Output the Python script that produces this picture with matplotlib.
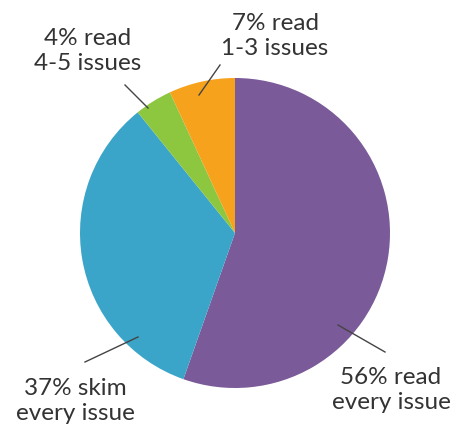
import numpy as np
import matplotlib.pyplot as plt

# slice shares (measured from the wedges) and their printed labels
shares = [55.4, 33.8, 3.9, 6.9]
labels = ['56% read\nevery issue', '37% skim\nevery issue',
          '4% read\n4-5 issues', '7% read\n1-3 issues']
colors = ['#7A5A98', '#3AA5C8', '#8DC63F', '#F6A21C']

W, H = 458, 428

fig = plt.figure(figsize=(W/100, H/100), dpi=100)
ax = fig.add_axes([0, 0, 1, 1])

cx, cy, r = 235, H - 233, 155
ax.pie(shares, colors=colors, startangle=90, counterclock=False,
       center=(cx, cy), radius=r, frame=True,
       wedgeprops=dict(linewidth=0))
ax.set_xlim(0, W)
ax.set_ylim(0, H)
ax.set_aspect('equal')
ax.axis('off')

# leader lines (inner end on wedge, outer end near label) and label centres
leaders = [((338, 325), (385, 352)),
           ((138, 337), (85, 362)),
           ((148, 108), (125, 85)),
           ((199, 95), (220, 65))]
text_pos = [(391, 390), (75, 401), (88, 51), (275, 36)]

for lab, (p0, p1), (tx, ty) in zip(labels, leaders, text_pos):
    ax.plot([p0[0], p1[0]], [H - p0[1], H - p1[1]], color='#444444', lw=1)
    ax.text(tx, H - ty, lab, ha='center', va='center', fontsize=17.5,
            family='Lato', color='#333333', linespacing=1.2)

fig.savefig('out.png', dpi=100)
